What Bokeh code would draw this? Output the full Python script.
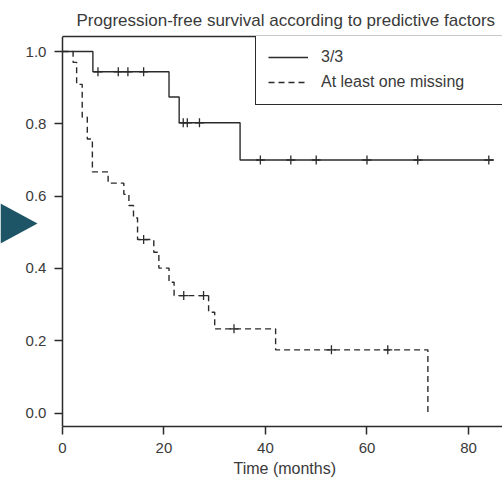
from bokeh.plotting import figure
from bokeh.models import (Range1d, FixedTicker, NumeralTickFormatter, LinearAxis,
                          Legend, LegendItem, PolyAnnotation, Title)
from bokeh.embed import file_html
from bokeh.resources import INLINE

# ---- data ----
title_text = "Progression-free survival according to predictive factors"
x_label = "Time (months)"
x_ticks = [0, 20, 40, 60, 80]
y_ticks = [0.0, 0.2, 0.4, 0.6, 0.8, 1.0]

series_names = ["3/3", "At least one missing"]

# group "3/3" (solid)
solid_time = [0, 6.0, 21.0, 23.0, 35.0, 85.0]
solid_surv = [1.0, 0.944, 0.874, 0.803, 0.700, 0.700]
solid_cens_time = [7.0, 11.0, 12.9, 16.0, 23.8, 24.6, 27.0, 39.0, 45.0, 50.0, 60.0, 70.0, 84.0]
solid_cens_surv = [0.944, 0.944, 0.944, 0.944, 0.803, 0.803, 0.803, 0.700, 0.700, 0.700, 0.700, 0.700, 0.700]

# group "At least one missing" (dashed)
dash_time = [0, 2.1, 2.8, 3.9, 4.9, 5.9, 9.0, 12.1, 13.1, 14.0, 14.8, 18.0, 19.0, 21.0, 22.0, 28.8, 30.0, 42.0, 72.0]
dash_surv = [1.0, 0.970, 0.909, 0.818, 0.758, 0.667, 0.636, 0.605, 0.574, 0.540, 0.480, 0.445, 0.401, 0.362, 0.325, 0.279, 0.233, 0.175, 0.0]
dash_cens_time = [16.0, 23.9, 27.8, 33.8, 53.0, 64.1]
dash_cens_surv = [0.480, 0.325, 0.325, 0.233, 0.175, 0.175]

FONT = "Liberation Sans"
INK = "#2b2b2b"
TXT = "#3a3a3a"
X_END = 86.7

p = figure(width=502, height=483, output_backend="svg", toolbar_location=None,
           x_range=Range1d(-12.2, X_END), y_range=Range1d(-0.037, 1.0415),
           min_border_left=0, min_border_right=0, min_border_top=36, min_border_bottom=57,
           title=title_text)
p.background_fill_color = "white"
p.border_fill_color = "white"
p.outline_line_color = None
p.xgrid.visible = False
p.ygrid.visible = False

p.title.text_font = FONT
p.title.text_font_size = "17px"
p.title.text_font_style = "normal"
p.title.text_color = TXT
p.title.align = "left"
p.title.offset = 76
p.title.standoff = 14

for ax in (p.xaxis[0], p.yaxis[0]):
    ax.axis_line_color = INK
    ax.axis_line_width = 1.5
    ax.major_tick_line_color = INK
    ax.major_tick_line_width = 1.5
    ax.major_tick_in = 0
    ax.major_tick_out = 8
    ax.minor_tick_line_color = None
    ax.major_label_text_font = FONT
    ax.major_label_text_font_size = "15px"
    ax.major_label_text_color = TXT
    ax.major_label_standoff = 8

p.xaxis.ticker = FixedTicker(ticks=x_ticks)
p.xaxis.bounds = (0, X_END)
p.yaxis.ticker = FixedTicker(ticks=y_ticks)
p.yaxis.formatter = NumeralTickFormatter(format="0.0")
p.yaxis.fixed_location = 0

# x-axis title, placed under the axis and aligned with the plotted time span
xt = Title(text=x_label, text_font=FONT, text_font_size="16px", text_font_style="normal",
           text_color=TXT, align="left", offset=233, standoff=4)
p.add_layout(xt, "below")

# top border line
top = LinearAxis(ticker=FixedTicker(ticks=[]), axis_line_color=INK, axis_line_width=1.5,
                 major_tick_out=0, major_tick_in=0, minor_tick_out=0, minor_tick_in=0,
                 major_label_text_font_size="0px", bounds=(0, X_END))
p.add_layout(top, "above")

r1 = p.step(solid_time, solid_surv, mode="after", line_color=INK, line_width=1.4)
r2 = p.step(dash_time, dash_surv, mode="after", line_color=INK, line_width=1.4, line_dash="6 4")
p.scatter(solid_cens_time, solid_cens_surv, marker="cross", size=9, line_color=INK, line_width=1.3)
p.scatter(dash_cens_time, dash_cens_surv, marker="cross", size=9, line_color=INK, line_width=1.3)

legend = Legend(items=[LegendItem(label=series_names[0], renderers=[r1]),
                       LegendItem(label=series_names[1], renderers=[r2])],
                location=(255, 321), padding=12, spacing=5, margin=0,
                glyph_width=40, glyph_height=20, label_height=20, label_width=230,
                label_standoff=13, label_text_font=FONT, label_text_font_size="16px",
                label_text_color=TXT, border_line_color=INK, border_line_width=1.5,
                border_line_alpha=1.0,
                background_fill_color="white", background_fill_alpha=1)
p.add_layout(legend)

# decorative arrow head at the left edge
tri = PolyAnnotation(xs=[0, 37, 0], ys=[203, 223, 243], xs_units="canvas", ys_units="canvas",
                     fill_color="#1d5566", fill_alpha=1, line_color=None)
p.add_layout(tri)

open("out.html", "w").write(file_html(p, INLINE))
